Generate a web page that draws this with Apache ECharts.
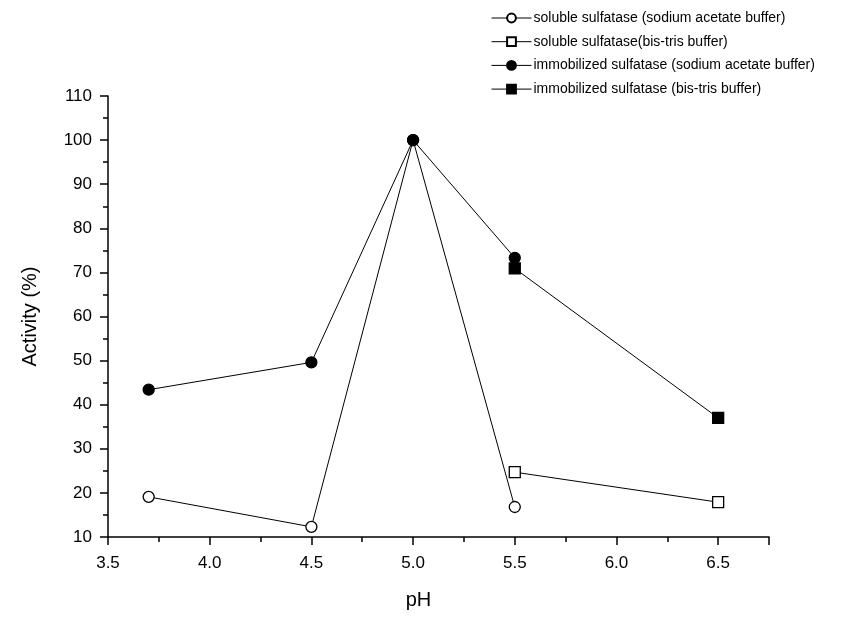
<!DOCTYPE html>
<html>
<head>
<meta charset="utf-8">
<script src="https://cdn.jsdelivr.net/npm/echarts@6/dist/echarts.min.js"></script>
<style>html,body{margin:0;padding:0;background:#fff;}#c{width:845px;height:617px;}</style>
</head>
<body>
<div id="c"></div>
<script>
var seriesNames = [
  'soluble sulfatase (sodium acetate buffer)',
  'soluble sulfatase(bis-tris buffer)',
  'immobilized sulfatase (sodium acetate buffer)',
  'immobilized sulfatase (bis-tris buffer)'
];
var solubleAcetateX = [3.7, 4.5, 5.0, 5.5];
var solubleAcetateY = [19.1, 12.3, 100, 16.8];
var solubleBisTrisX = [5.5, 6.5];
var solubleBisTrisY = [24.7, 17.9];
var immobAcetateX = [3.7, 4.5, 5.0, 5.5];
var immobAcetateY = [43.4, 49.6, 100, 73.3];
var immobBisTrisX = [5.5, 6.5];
var immobBisTrisY = [70.9, 37.0];
var xTicks = [3.5, 4.0, 4.5, 5.0, 5.5, 6.0, 6.5];
var yTicks = [10, 20, 30, 40, 50, 60, 70, 80, 90, 100, 110];

function pairs(xs, ys) { return xs.map(function (x, i) { return [x, ys[i]]; }); }

var FONT = 'Liberation Sans, Arial, sans-serif';
function mk(name, xs, ys, symbol, filled) {
  return {
    name: name, type: 'line', data: pairs(xs, ys),
    symbol: symbol, symbolSize: 11, showSymbol: true,
    lineStyle: { color: '#000', width: 1 },
    itemStyle: { color: filled ? '#000' : '#fff', borderColor: '#000', borderWidth: 1.3 },
    emphasis: { disabled: true }, z: 3
  };
}

var chart = echarts.init(document.getElementById('c'));
chart.setOption({
  animation: false,
  backgroundColor: '#fff',
  grid: { left: 108, right: 76, top: 96, bottom: 80 },
  legend: {
    orient: 'vertical', left: 486, top: 6,
    itemWidth: 40, itemHeight: 11, itemGap: 9.7,
    lineStyle: { width: 1 },
    textStyle: { fontFamily: FONT, fontSize: 14, color: '#000', padding: [0, 0, 0, -3] },
    data: seriesNames.map(function (n) { return { name: n }; })
  },
  xAxis: {
    type: 'value', min: 3.5, max: 6.75, interval: 0.5,
    name: 'pH', nameLocation: 'middle', nameGap: 53,
    nameTextStyle: { fontFamily: FONT, fontSize: 20, color: '#000', padding: [0, 40, 0, 0] },
    axisLine: { show: true, lineStyle: { color: '#000', width: 1.5 } },
    axisTick: { show: true, inside: false, length: 8, lineStyle: { color: '#000', width: 1.5 } },
    minorTick: { show: true, splitNumber: 2, length: 5, lineStyle: { color: '#000', width: 1.5 } },
    splitLine: { show: false },
    axisLabel: {
      fontFamily: FONT, fontSize: 17, color: '#000', margin: 18,
      formatter: function (v) { return xTicks.indexOf(Math.round(v * 100) / 100) >= 0 ? v.toFixed(1) : ''; }
    }
  },
  yAxis: {
    type: 'value', min: 10, max: 110, interval: 10,
    name: 'Activity (%)', nameLocation: 'middle', nameGap: 68,
    nameTextStyle: { fontFamily: FONT, fontSize: 20, color: '#000' },
    axisLine: { show: true, lineStyle: { color: '#000', width: 1.5 } },
    axisTick: { show: true, inside: false, length: 8, lineStyle: { color: '#000', width: 1.5 } },
    minorTick: { show: true, splitNumber: 2, length: 5, lineStyle: { color: '#000', width: 1.5 } },
    splitLine: { show: false },
    axisLabel: {
      fontFamily: FONT, fontSize: 17, color: '#000', margin: 16,
      formatter: function (v) { return yTicks.indexOf(v) >= 0 ? String(v) : ''; }
    }
  },
  series: [
    mk(seriesNames[0], solubleAcetateX, solubleAcetateY, 'circle', false),
    mk(seriesNames[1], solubleBisTrisX, solubleBisTrisY, 'rect', false),
    mk(seriesNames[2], immobAcetateX, immobAcetateY, 'circle', true),
    mk(seriesNames[3], immobBisTrisX, immobBisTrisY, 'rect', true)
  ]
});
</script>
</body>
</html>
